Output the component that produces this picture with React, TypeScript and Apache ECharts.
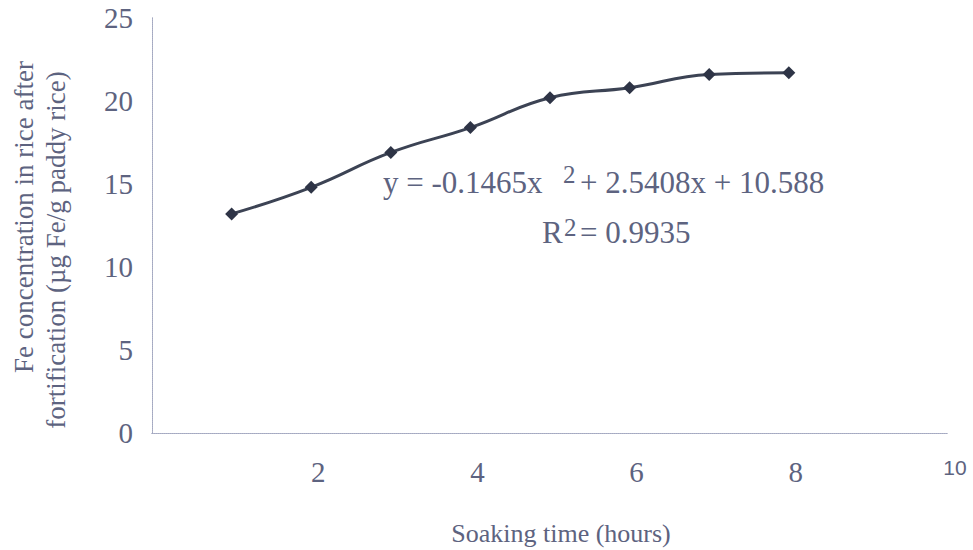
import React, { useEffect, useRef } from "react";
import * as echarts from "echarts";

const hours = [1, 2, 3, 4, 5, 6, 7, 8];
const feConc = [13.2, 14.8, 16.9, 18.4, 20.2, 20.8, 21.6, 21.7];
const xTicks = [2, 4, 6, 8, 10];
const yTicks = [0, 5, 10, 15, 20, 25];
const xTitle = "Soaking time (hours)";
const yTitle1 = "Fe concentration in rice after";
const yTitle2 = "fortification (\u00b5g Fe/g paddy rice)";

const TXT = "#5d6380";
const LINE = "#3c4354";
const AXIS = "#a3a8c0";
const SERIF_FAMILY = "Liberation Serif";
const SERIF = "'Liberation Serif', serif";

export default function App() {
  const ref = useRef<HTMLDivElement>(null);
  useEffect(() => {
    if (!ref.current) return;
    const chart = echarts.init(ref.current, null, { renderer: "svg" });
    const dotted = { show: true, lineStyle: { color: AXIS, width: 1, type: "dotted" as const } };
    chart.setOption({
      animation: false,
      backgroundColor: "#ffffff",
      grid: { left: 152, right: 25, top: 18, bottom: 117 },
      xAxis: [
        {
          type: "value",
          min: 0,
          max: 10,
          interval: 2,
          axisLine: dotted,
          axisTick: { show: false },
          splitLine: { show: false },
          axisLabel: {
            margin: 24,
            padding: [0, 0, 0, 14],
            color: TXT,
            fontFamily: SERIF_FAMILY,
            fontSize: 29,
            formatter: (v: number) =>
              xTicks.includes(v) ? (v === 10 ? "{s|" + v + "}" : "{n|" + v + "}") : "",
            rich: {
              n: {
                fontFamily: SERIF_FAMILY,
                fontSize: 29,
                color: TXT,
              },
              s: {
                fontFamily: "Liberation Sans",
                fontSize: 21,
                color: TXT,
                padding: [0, 0, 18, 0],
              },
            },
          },
        },
        {
          type: "value",
          position: "top",
          min: 0,
          max: 10,
          interval: 2,
          axisLine: dotted,
          axisTick: { show: false },
          axisLabel: { show: false },
          splitLine: { show: false },
        },
      ],
      yAxis: [
        {
          type: "value",
          min: 0,
          max: 25,
          interval: 5,
          axisLine: dotted,
          axisTick: { show: false },
          splitLine: { show: false },
          axisLabel: {
            margin: 19,
            padding: [14, 0, 0, 0],
            color: TXT,
            fontFamily: SERIF_FAMILY,
            fontSize: 29,
            formatter: (v: number) => (yTicks.includes(v) ? String(v) : ""),
          },
        },
        {
          type: "value",
          position: "right",
          min: 0,
          max: 25,
          interval: 5,
          axisLine: dotted,
          axisTick: { show: false },
          axisLabel: { show: false },
          splitLine: { show: false },
        },
      ],
      series: [
        {
          type: "line",
          data: hours.map((h, i) => [h, feConc[i]]),
          smooth: 0.45,
          symbol: "diamond",
          symbolSize: 13,
          lineStyle: { color: LINE, width: 3 },
          itemStyle: { color: "#2e3446" },
        },
      ],
      graphic: [
        {
          type: "text",
          x: 561,
          y: 533,
          style: { text: xTitle, fill: TXT, font: "26px " + SERIF, align: "center", verticalAlign: "middle" },
        },
        {
          type: "text",
          x: 24,
          y: 217,
          rotation: Math.PI / 2,
          style: { text: yTitle1, fill: TXT, font: "27px " + SERIF, align: "center", verticalAlign: "middle" },
        },
        {
          type: "text",
          x: 56,
          y: 250,
          rotation: Math.PI / 2,
          style: { text: yTitle2, fill: TXT, font: "27px " + SERIF, align: "center", verticalAlign: "middle" },
        },
        {
          type: "text",
          x: 383,
          y: 182,
          style: { text: "y = -0.1465x", fill: TXT, font: "31px " + SERIF, align: "left", verticalAlign: "middle" },
        },
        {
          type: "text",
          x: 563,
          y: 174,
          style: { text: "2", fill: TXT, font: "25px " + SERIF, align: "left", verticalAlign: "middle" },
        },
        {
          type: "text",
          x: 580,
          y: 182,
          style: { text: "+ 2.5408x + 10.588", fill: TXT, font: "31px " + SERIF, align: "left", verticalAlign: "middle" },
        },
        {
          type: "text",
          x: 542,
          y: 232,
          style: { text: "R", fill: TXT, font: "31px " + SERIF, align: "left", verticalAlign: "middle" },
        },
        {
          type: "text",
          x: 564,
          y: 227,
          style: { text: "2", fill: TXT, font: "25px " + SERIF, align: "left", verticalAlign: "middle" },
        },
        {
          type: "text",
          x: 580,
          y: 232,
          style: { text: "= 0.9935", fill: TXT, font: "31px " + SERIF, align: "left", verticalAlign: "middle" },
        },
      ],
    });
    return () => chart.dispose();
  }, []);
  return (
    <div
      ref={ref}
      style={{ position: "fixed", left: 0, top: 0, width: 973, height: 550 }}
    />
  );
}
